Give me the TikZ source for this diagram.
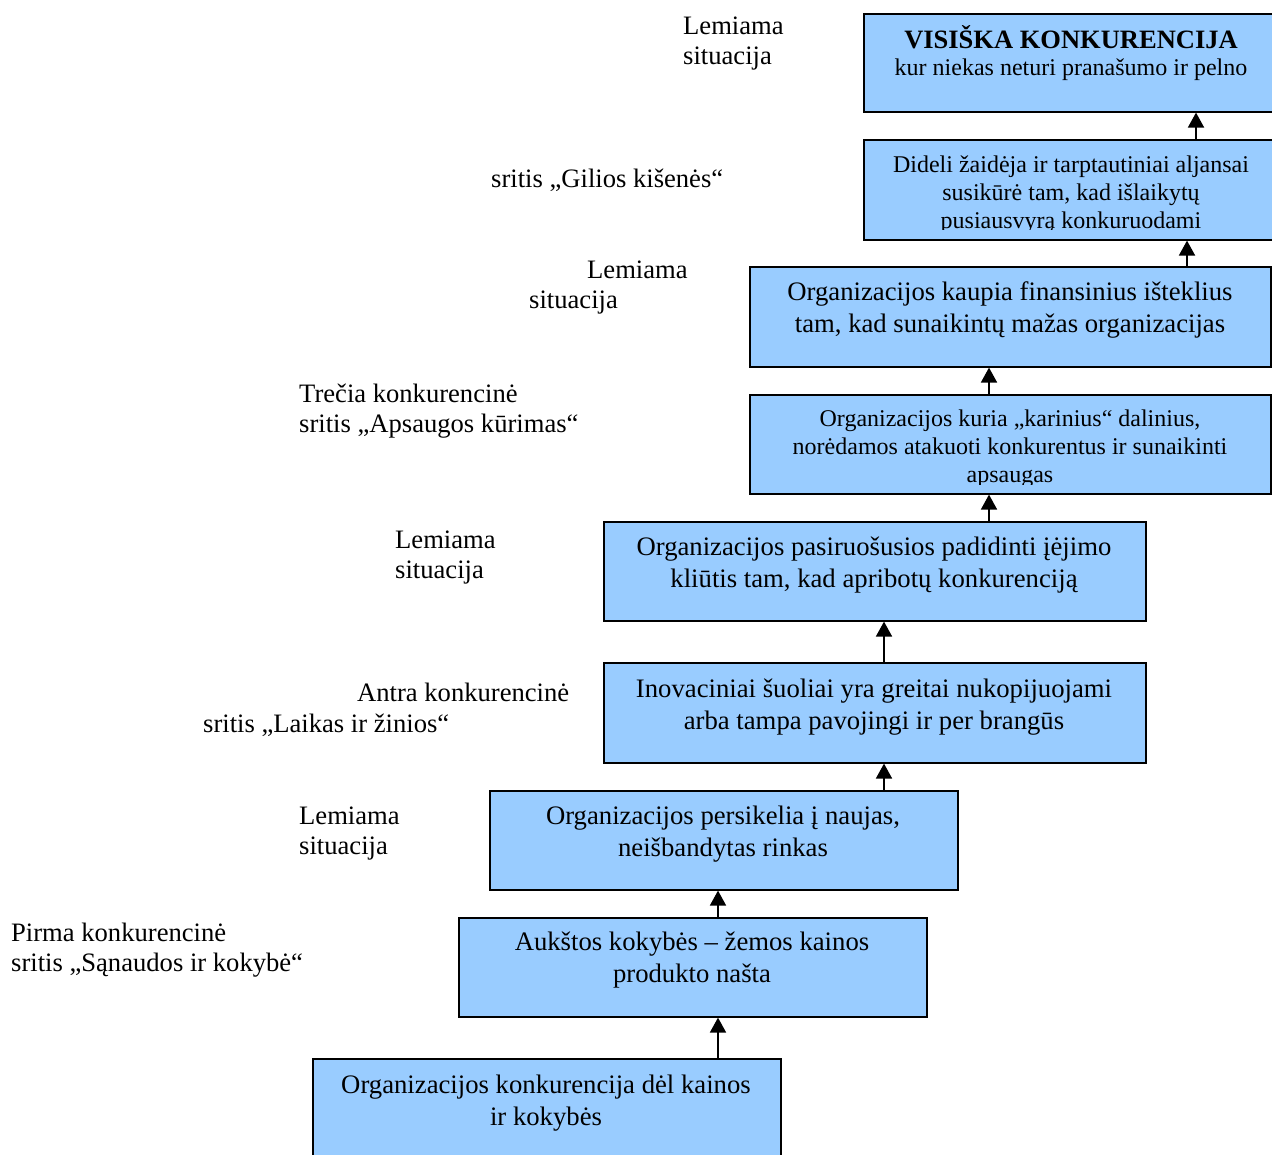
\documentclass[tikz,border=0pt]{standalone}
\usepackage{fontspec}
\setmainfont{Liberation Serif}
\usetikzlibrary{arrows.meta}
\definecolor{boxblue}{HTML}{99CCFF}
\tikzset{
  stage/.style={draw=black, line width=1.6pt, fill=boxblue, rectangle, inner sep=0pt, anchor=north west},
  stagetext/.style={anchor=north, align=center, inner sep=0pt, font=\fontsize{26.7}{31.5}\selectfont},
  smalltext/.style={anchor=north, align=center, inner sep=0pt, font=\fontsize{24}{28}\selectfont},
  sidetext/.style={anchor=north west, align=left, inner sep=0pt, font=\fontsize{26.6}{30}\selectfont},
  uparrow/.style={line width=1.8pt, -{Triangle[width=16pt,length=15pt]}},
}
\begin{document}
\begin{tikzpicture}[x=1pt, y=-1pt]
\useasboundingbox (0,0) rectangle (1272,1155);

% stages, from the top down
\node[stage, minimum width=412pt, minimum height=98pt] (b1) at (863,13) {};
\node[stage, minimum width=412pt, minimum height=100pt] (b2) at (863,139) {};
\node[stage, minimum width=521pt, minimum height=100pt] (b3) at (749,266) {};
\node[stage, minimum width=521pt, minimum height=99pt] (b4) at (749,394) {};
\node[stage, minimum width=542pt, minimum height=99pt] (b5) at (603,521) {};
\node[stage, minimum width=542pt, minimum height=100pt] (b6) at (603,662) {};
\node[stage, minimum width=468pt, minimum height=99pt] (b7) at (489,790) {};
\node[stage, minimum width=468pt, minimum height=99pt] (b8) at (458,917) {};
\node[stage, minimum width=468pt, minimum height=120pt] (b9) at (312,1058) {};

% texts inside the stages
\node[anchor=base, inner sep=0pt, font=\fontsize{26.5}{30}\selectfont\bfseries] (t1a) at (1071,49)
  {VISIŠKA KONKURENCIJA};
\node[anchor=base, inner sep=0pt, font=\fontsize{24}{28}\selectfont] (t1b) at (1071,76)
  {kur niekas neturi pranašumo ir pelno};
% the text frames of these two stages end a little above the border
\begin{scope}
  \clip (b2.north west) rectangle ([yshift=11pt]b2.south east);
  \node[smalltext] (t2) at (1071,156)
    {Dideli žaidėja ir tarptautiniai aljansai\\susikūrė tam, kad išlaikytų\\pusiausvyrą konkuruodami};
\end{scope}
\node[stagetext] (t3) at (1010,282)
  {Organizacijos kaupia finansinius išteklius\\tam, kad sunaikintų mažas organizacijas};
\begin{scope}
  \clip (b4.north west) rectangle ([yshift=10pt]b4.south east);
  \node[smalltext] (t4) at (1010,410)
    {Organizacijos kuria „karinius“ dalinius,\\norėdamos atakuoti konkurentus ir sunaikinti\\apsaugas};
\end{scope}
\node[stagetext] (t5) at (874,537)
  {Organizacijos pasiruošusios padidinti įėjimo\\kliūtis tam, kad apribotų konkurenciją};
\node[stagetext] (t6) at (874,679)
  {Inovaciniai šuoliai yra greitai nukopijuojami\\arba tampa pavojingi ir per brangūs};
\node[stagetext] (t7) at (723,806)
  {Organizacijos persikelia į naujas,\\neišbandytas rinkas};
\node[stagetext] (t8) at (692,932)
  {Aukštos kokybės – žemos kainos\\produkto našta};
\node[stagetext] (t9) at (546,1075)
  {Organizacijos konkurencija dėl kainos\\ir kokybės};

% arrow positions
\coordinate (xa) at (1196,0);
\coordinate (xb) at (1187,0);
\coordinate (xc) at (989,0);
\coordinate (xd) at (884,0);
\coordinate (xe) at (718,0);

\draw[uparrow] (b2.north -| xa) -- (b1.south -| xa);
\draw[uparrow] (b3.north -| xb) -- (b2.south -| xb);
\draw[uparrow] (b4.north -| xc) -- (b3.south -| xc);
\draw[uparrow] (b5.north -| xc) -- (b4.south -| xc);
\draw[uparrow] (b6.north -| xd) -- (b5.south -| xd);
\draw[uparrow] (b7.north -| xd) -- (b6.south -| xd);
\draw[uparrow] (b8.north -| xe) -- (b7.south -| xe);
\draw[uparrow] (b9.north -| xe) -- (b8.south -| xe);

% side labels
\node[sidetext] (l1) at (683,17) {Lemiama\\situacija};
\node[sidetext] (l2) at (491,169) {sritis „Gilios kišenės“};
\node[sidetext] (l3a) at (587,261) {Lemiama};
\node[sidetext] (l3b) at (529,291) {situacija};
\node[sidetext] (l4) at (299,384) {Trečia konkurencinė\\sritis „Apsaugos kūrimas“};
\node[sidetext] (l5) at (395,531) {Lemiama\\situacija};
\node[sidetext] (l6a) at (357,683) {Antra konkurencinė};
\node[sidetext] (l6b) at (203,714) {sritis „Laikas ir žinios“};
\node[sidetext] (l7) at (299,807) {Lemiama\\situacija};
\node[sidetext] (l8) at (11,923) {Pirma konkurencinė\\sritis „Sąnaudos ir kokybė“};
\end{tikzpicture}
\end{document}
